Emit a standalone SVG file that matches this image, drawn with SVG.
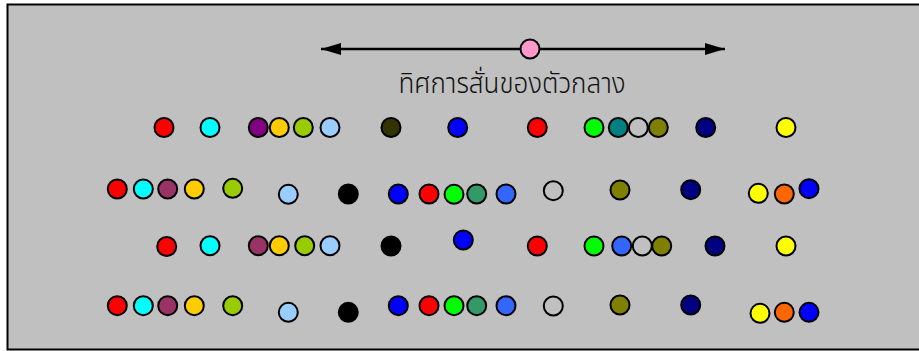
<svg xmlns="http://www.w3.org/2000/svg" width="919" height="351" viewBox="0 0 919 351">
<defs>
<style>
.d{stroke:#000;stroke-width:2}
.t{font-family:"Noto Sans Thai","Noto Sans","DejaVu Sans",sans-serif;font-size:26px;font-weight:300;fill:#111}
</style>
<marker id="ah" viewBox="0 0 20 12" refX="20" refY="6" markerWidth="20" markerHeight="12" markerUnits="userSpaceOnUse" orient="auto-start-reverse">
<path d="M0,0 L20,6 L0,12 Z" fill="#000"/>
</marker>
</defs>
<rect x="7.5" y="4.5" width="930" height="345" fill="#C0C0C0" stroke="#000" stroke-width="2"/>
<g id="connectors">
<line x1="321" y1="49" x2="725" y2="49" stroke="#000" stroke-width="2.5" marker-start="url(#ah)" marker-end="url(#ah)"/>
</g>
<g id="medium-center"><circle class="d" cx="530" cy="49" r="9.5" fill="#FF99CC"/></g>
<g id="label"><text class="t" transform="translate(512,93) scale(1,1.1)" x="0" y="0" text-anchor="middle">ทิศการสั่นของตัวกลาง</text></g>
<g id="row1">
<circle class="d" cx="164" cy="127.5" r="9.5" fill="#FF0000"/>
<circle class="d" cx="210" cy="127.5" r="9.5" fill="#00FFFF"/>
<circle class="d" cx="258.3" cy="127.5" r="9.5" fill="#800080"/>
<circle class="d" cx="279.3" cy="127.5" r="9.5" fill="#FFCC00"/>
<circle class="d" cx="303.3" cy="127.5" r="9.5" fill="#99CC00"/>
<circle class="d" cx="330" cy="127.5" r="9.5" fill="#99CCFF"/>
<circle class="d" cx="391" cy="127.5" r="9.5" fill="#333300"/>
<circle class="d" cx="457.7" cy="127.5" r="9.5" fill="#0000FF"/>
<circle class="d" cx="537.3" cy="127.5" r="9.5" fill="#FF0000"/>
<circle class="d" cx="594" cy="127.5" r="9.5" fill="#00FF00"/>
<circle class="d" cx="618.3" cy="127.5" r="9.5" fill="#008080"/>
<circle class="d" cx="638.3" cy="127.5" r="9.5" fill="#C0C0C0"/>
<circle class="d" cx="658.3" cy="127.5" r="9.5" fill="#808000"/>
<circle class="d" cx="705.7" cy="127.5" r="9.5" fill="#000080"/>
<circle class="d" cx="786" cy="127.5" r="9.5" fill="#FFFF00"/>
</g>
<g id="row2">
<circle class="d" cx="117.3" cy="189" r="9.5" fill="#FF0000"/>
<circle class="d" cx="143.3" cy="189" r="9.5" fill="#00FFFF"/>
<circle class="d" cx="167.7" cy="189" r="9.5" fill="#993366"/>
<circle class="d" cx="194.3" cy="189" r="9.5" fill="#FFCC00"/>
<circle class="d" cx="232.7" cy="188.3" r="9.5" fill="#99CC00"/>
<circle class="d" cx="288.3" cy="194.3" r="9.5" fill="#99CCFF"/>
<circle class="d" cx="348.3" cy="194" r="9.5" fill="#000000"/>
<circle class="d" cx="398.3" cy="194" r="9.5" fill="#0000FF"/>
<circle class="d" cx="429" cy="194" r="9.5" fill="#FF0000"/>
<circle class="d" cx="454" cy="194.3" r="9.5" fill="#00FF00"/>
<circle class="d" cx="476.7" cy="194" r="9.5" fill="#339966"/>
<circle class="d" cx="506" cy="194" r="9.5" fill="#3366FF"/>
<circle class="d" cx="553.3" cy="190.7" r="9.5" fill="#C0C0C0"/>
<circle class="d" cx="620" cy="190" r="9.5" fill="#808000"/>
<circle class="d" cx="690.7" cy="189.7" r="9.5" fill="#000080"/>
<circle class="d" cx="758.3" cy="193.3" r="9.5" fill="#FFFF00"/>
<circle class="d" cx="784.3" cy="194" r="9.5" fill="#FF6600"/>
<circle class="d" cx="809" cy="188.7" r="9.5" fill="#0000FF"/>
</g>
<g id="row3">
<circle class="d" cx="166.7" cy="246.5" r="9.5" fill="#FF0000"/>
<circle class="d" cx="210" cy="245.7" r="9.5" fill="#00FFFF"/>
<circle class="d" cx="258.3" cy="245.7" r="9.5" fill="#993366"/>
<circle class="d" cx="279.3" cy="245.7" r="9.5" fill="#FFCC00"/>
<circle class="d" cx="304.7" cy="245.7" r="9.5" fill="#99CC00"/>
<circle class="d" cx="330" cy="245.7" r="9.5" fill="#99CCFF"/>
<circle class="d" cx="391" cy="246" r="9.5" fill="#000000"/>
<circle class="d" cx="463.3" cy="240" r="9.5" fill="#0000FF"/>
<circle class="d" cx="537.3" cy="246" r="9.5" fill="#FF0000"/>
<circle class="d" cx="594" cy="246" r="9.5" fill="#00FF00"/>
<circle class="d" cx="621.7" cy="246" r="9.5" fill="#3366FF"/>
<circle class="d" cx="642.3" cy="246" r="9.5" fill="#C0C0C0"/>
<circle class="d" cx="661.7" cy="246" r="9.5" fill="#808000"/>
<circle class="d" cx="715" cy="246" r="9.5" fill="#000080"/>
<circle class="d" cx="786" cy="246" r="9.5" fill="#FFFF00"/>
</g>
<g id="row4">
<circle class="d" cx="117.3" cy="305.7" r="9.5" fill="#FF0000"/>
<circle class="d" cx="143.3" cy="305.7" r="9.5" fill="#00FFFF"/>
<circle class="d" cx="167.7" cy="305.7" r="9.5" fill="#993366"/>
<circle class="d" cx="194.3" cy="305.7" r="9.5" fill="#FFCC00"/>
<circle class="d" cx="232.7" cy="305.7" r="9.5" fill="#99CC00"/>
<circle class="d" cx="288.3" cy="312.3" r="9.5" fill="#99CCFF"/>
<circle class="d" cx="348.3" cy="312.3" r="9.5" fill="#000000"/>
<circle class="d" cx="398.3" cy="305.7" r="9.5" fill="#0000FF"/>
<circle class="d" cx="429" cy="305.7" r="9.5" fill="#FF0000"/>
<circle class="d" cx="454" cy="305.7" r="9.5" fill="#00FF00"/>
<circle class="d" cx="476.7" cy="305.7" r="9.5" fill="#339966"/>
<circle class="d" cx="506" cy="305.7" r="9.5" fill="#3366FF"/>
<circle class="d" cx="553.3" cy="306" r="9.5" fill="#C0C0C0"/>
<circle class="d" cx="620" cy="305" r="9.5" fill="#808000"/>
<circle class="d" cx="690.7" cy="305" r="9.5" fill="#000080"/>
<circle class="d" cx="760" cy="313.3" r="9.5" fill="#FFFF00"/>
<circle class="d" cx="784.3" cy="312.3" r="9.5" fill="#FF6600"/>
<circle class="d" cx="809" cy="312.3" r="9.5" fill="#0000FF"/>
</g>
</svg>
